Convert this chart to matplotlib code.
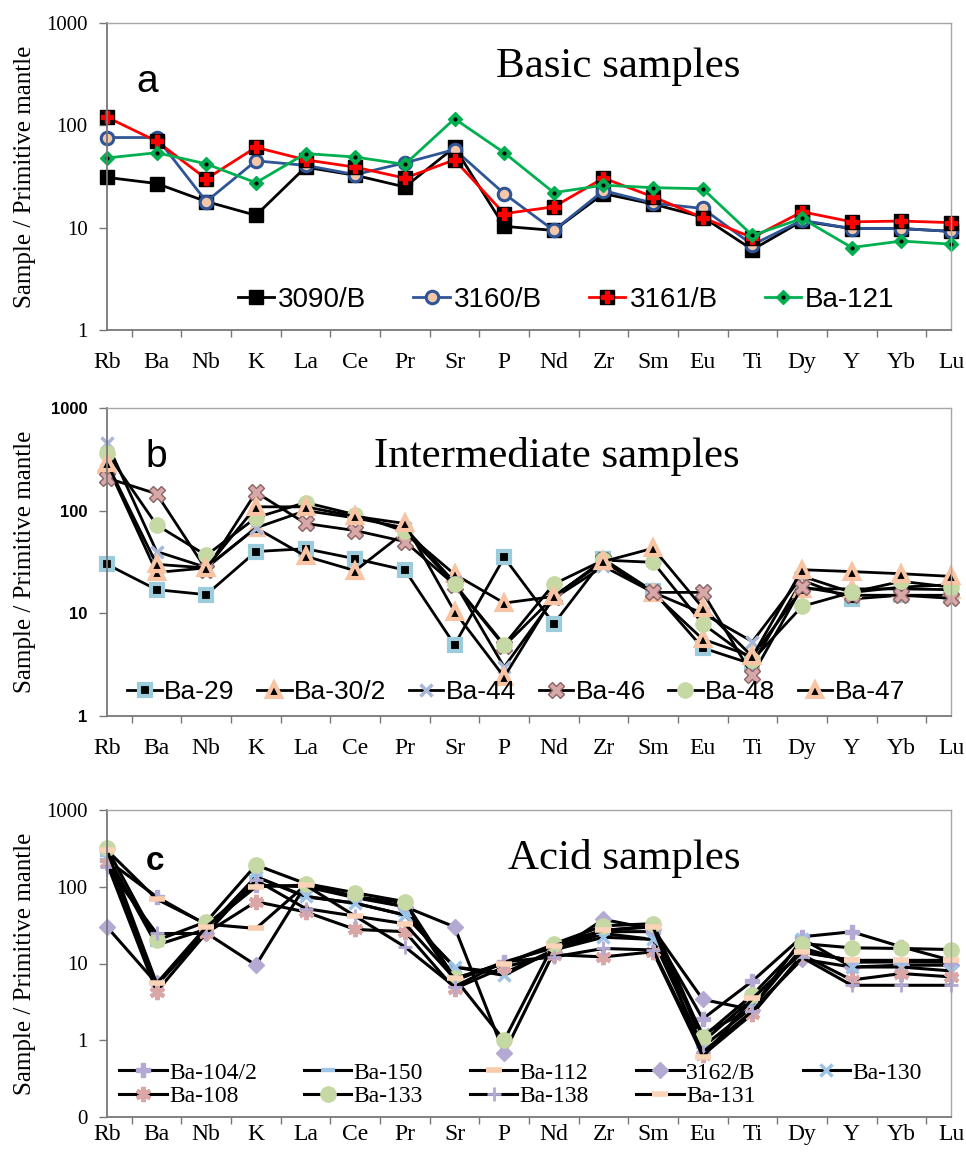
import numpy as np
import matplotlib
matplotlib.use("Agg")
import matplotlib.pyplot as plt
from matplotlib.ticker import FixedLocator, NullFormatter

# Elements (x axis)
elements = ["Rb", "Ba", "Nb", "K", "La", "Ce", "Pr", "Sr", "P", "Nd",
            "Zr", "Sm", "Eu", "Ti", "Dy", "Y", "Yb", "Lu"]

# --- a: basic samples
s3090B = [31, 27, 18, 13.2, 39, 32.5, 25, 61, 10.3, 9.4, 21.5, 17, 12.7, 6.1, 11.6, 9.8, 9.8, 9.2]
s3160B = [76, 76, 18, 45, 40.6, 33, 43, 58, 21.5, 9.4, 23, 17.4, 15.4, 6.8, 11.8, 9.8, 9.8, 9.2]
s3161B = [120, 70, 30, 61, 46, 39, 30.5, 46, 13.7, 16, 30.5, 20, 12.5, 8, 14.3, 11.4, 11.6, 11.2]
ba121 = [48, 54, 42, 27.5, 53, 49, 41.5, 116, 54, 22, 26, 24.6, 24, 8.4, 12.3, 6.4, 7.4, 6.9]

# --- b: intermediate samples
ba29 = [30, 17, 15.2, 40, 42.6, 34, 26.4, 4.95, 35, 7.9, 33.8, 16.4, 4.6, 3.2, 21, 13.8, 15, 15]
ba30_2 = [280, 25, 27.7, 68, 36, 26, 62, 24, 12.6, 14.6, 32, 15.8, 5.6, 3.8, 17.3, 17.3, 17.3, 17]
ba44 = [456, 40, 28, 68, 100, 85, 68, 20, 3.0, 14, 28.7, 16, 10, 5.3, 23, 16, 18, 19]
ba46 = [208, 146, 26.6, 151, 75, 64, 50, 19, 4.8, 14.5, 33, 16, 16, 2.5, 18, 15, 15, 14]
ba48 = [365, 72.5, 36.7, 85.5, 120, 91.5, 63, 19.3, 4.95, 19.3, 33, 31.4, 7.9, 3.5, 11.7, 16, 20.5, 18]
ba47 = [290, 30, 27.7, 109, 109, 88, 75, 10.4, 2.4, 14.6, 32, 43, 11.3, 3.8, 26.6, 25.5, 24.3, 22.9]

# --- c: acid samples
ba104_2 = [223, 74, 32, 105, 100, 72, 55, 6, 10.5, 16, 26, 26, 1.9, 5.9, 22.3, 25.9, 16.5, 11]
ba150 = [259, 17.4, 28, 135, 74, 61, 43, 9, 7.5, 15, 24.6, 20.6, 0.82, 2.7, 16, 10.4, 10.5, 10.4]
ba112 = [300, 69, 32.6, 28.6, 105, 74, 62, 6.4, 10, 17.7, 27, 30.7, 0.95, 3.5, 14.2, 11, 10.5, 11]
s3162B = [30, 5.5, 25, 9.5, 105, 75, 55, 30, 0.68, 14, 37.5, 28, 3.4, 2.5, 11.4, 9, 9.5, 9.5]
ba130 = [250, 5.2, 27, 135, 75, 61, 42.7, 9, 7, 15, 22, 20.6, 1.2, 2.6, 21, 9, 9, 8]
ba108 = [201, 4.3, 25, 64, 47, 27.8, 26, 4.7, 9, 13, 12.2, 14.2, 0.64, 2.2, 13, 6.1, 7.4, 6.7]
ba133 = [316, 20, 35, 192, 110, 83.5, 64, 6.5, 1.0, 18, 31, 33, 1.1, 3.9, 18.2, 16, 15.7, 15.2]
ba138 = [183, 24.6, 24.6, 122, 52, 41.4, 16.5, 5, 10.5, 12.2, 15.7, 15, 0.7, 2.4, 12, 5.2, 5.2, 5.2]
ba131 = [300, 5.5, 30, 100, 105, 41.4, 33, 6.4, 10, 17, 27, 30, 0.6, 3.5, 14, 11, 11, 11]

SERIF = "Liberation Serif"
SANS = "Liberation Sans"

x = np.arange(len(elements))
W, H = 966, 1157
fig = plt.figure(figsize=(W / 100, H / 100), dpi=100)


def make_axes(top, bottom, ymin, ylabels, tickfont, xpad=16):
    left, right = 107, 951
    ax = fig.add_axes([left / W, 1 - bottom / H, (right - left) / W, (bottom - top) / H])
    ax.set_yscale("log")
    ax.set_ylim(ymin, 1000)
    ax.set_xlim(0, len(elements) - 1)
    ticks = [10.0 ** k for k in range(int(np.log10(ymin)), 4)]
    ax.yaxis.set_major_locator(FixedLocator(ticks))
    ax.yaxis.set_minor_locator(FixedLocator([]))
    ax.set_yticklabels(ylabels, **tickfont)
    ax.yaxis.set_minor_formatter(NullFormatter())
    ax.set_xticks(x)
    ax.set_xticklabels(elements, family=SERIF, fontsize=17)
    ax.set_xticks(x[:-1] + 0.5, minor=True)
    ax.tick_params(axis="x", which="major", length=0, pad=xpad)
    ax.tick_params(axis="x", which="minor", length=5, width=1, color="#777777")
    ax.tick_params(axis="y", which="major", length=6, width=1, color="#777777", pad=8)
    for s in ["left", "bottom"]:
        ax.spines[s].set_color("#777777")
        ax.spines[s].set_linewidth(1.3)
    for s in ["top", "right"]:
        ax.spines[s].set_color("#a6a6a6")
        ax.spines[s].set_linewidth(1)
    fig.text(25 / W, 1 - (top + bottom) / 2 / H, "Sample / Primitive mantle",
             rotation=90, ha="center", va="center", family=SERIF, fontsize=18)
    return ax


serif_ticks = dict(family=SERIF, fontsize=15)

# ---------------- a
ax = make_axes(23, 330, 1, ["1", "10", "100", "1000"], serif_ticks)
h1, = ax.plot(x, s3090B, color="black", lw=2, marker="s", ms=10, mfc="black", mec="black", clip_on=False)
h2, = ax.plot(x, s3160B, color="#2f5597", lw=2, marker="o", ms=9, mfc="#f4c7a8", mec="#2f5597", mew=2.2, clip_on=False)
h3, = ax.plot(x, s3161B, color="red", lw=2, marker="s", ms=10, mfc="black", mec="black", clip_on=False)
h3b, = ax.plot(x, s3161B, ls="none", marker="P", ms=8, mfc="red", mec="red", clip_on=False)
h4, = ax.plot(x, ba121, color="#00b050", lw=2, marker="D", ms=7, mfc="#00b050", mec="#00b050", clip_on=False)
h4b, = ax.plot(x, ba121, ls="none", marker="o", ms=2, mfc="black", mec="black", clip_on=False)
ax.legend([h1, h2, (h3, h3b), (h4, h4b)], ["3090/B", "3160/B", "3161/B", "Ba-121"],
          loc="center", bbox_to_anchor=(0.544, 0.098), ncol=4, frameon=False,
          prop=dict(family=SANS, size=20), handlelength=1.3, handletextpad=0.15,
          columnspacing=1.7)
fig.text(740 / W, 1 - 77 / H, "Basic samples", ha="right", va="baseline", family=SERIF, fontsize=31)
fig.text(147 / W, 1 - 92 / H, "a", ha="center", va="baseline", family=SANS, fontsize=28)

# ---------------- b
ax = make_axes(408, 716, 1, ["1", "10", "100", "1000"], dict(family=SANS, fontsize=12, weight="bold"))
peach = "#f8c4a4"
b_styles = [
    (ba29, "Ba-29", dict(marker="s", ms=9, mfc="black", mec="#9ccbdc", mew=3)),
    (ba30_2, "Ba-30/2", dict(marker="^", ms=10, mfc="black", mec=peach, mew=3)),
    (ba44, "Ba-44", dict(marker="x", ms=9, mec="#a8b6d8", mew=2.5)),
    (ba46, "Ba-46", dict(marker="X", ms=12, mfc="#d8a8a8", mec="#8a6464", mew=1)),
    (ba48, "Ba-48", dict(marker="o", ms=11, mfc="#c6d9a4", mec="#c6d9a4")),
    (ba47, "Ba-47", dict(marker="^", ms=10, mfc="black", mec=peach, mew=3)),
]
for vals, lab, st in b_styles:
    ax.plot(x, vals, color="black", lw=2, label=lab, clip_on=False, **st)
ax.legend(loc="center", bbox_to_anchor=(0.485, 0.078), ncol=6, frameon=False,
          prop=dict(family=SANS, size=19), handlelength=1.3, handletextpad=0.1,
          columnspacing=0.85)
fig.text(740 / W, 1 - 467 / H, "Intermediate samples", ha="right", va="baseline", family=SERIF, fontsize=31)
fig.text(156 / W, 1 - 467 / H, "b", ha="center", va="baseline", family=SANS, fontsize=28)

# ---------------- c
ax = make_axes(810, 1117, 0.1, ["0", "1", "10", "100", "1000"], serif_ticks, xpad=5)
lav = "#b4a9d3"
lblue = "#9dc3e6"
c_styles = [
    (ba104_2, "Ba-104/2", dict(marker="P", ms=10, mfc=lav, mec=lav)),
    (ba150, "Ba-150", dict(marker="_", ms=10, mec=lblue, mew=3)),
    (ba112, "Ba-112", dict(marker="_", ms=12, mec="#f8cbad", mew=4)),
    (s3162B, "3162/B", dict(marker="D", ms=8, mfc=lav, mec=lav)),
    (ba130, "Ba-130", dict(marker="x", ms=9, mec=lblue, mew=2.5)),
    (ba108, "Ba-108", dict(marker=(6, 2, 0), ms=11, mec="#dba6a6", mew=3)),
    (ba133, "Ba-133", dict(marker="o", ms=11, mfc="#c6d9a4", mec="#c6d9a4")),
    (ba138, "Ba-138", dict(marker="+", ms=10, mec=lav, mew=2)),
    (ba131, "Ba-131", dict(marker="_", ms=12, mec="#fbd3b8", mew=4)),
]
handles = []
for vals, lab, st in c_styles:
    h, = ax.plot(x, vals, color="black", lw=2.2, label=lab, clip_on=False, **st)
    handles.append(h)
# legend filled column by column -> reorder so rows read left to right
order = [0, 5, 1, 6, 2, 7, 3, 8, 4]
ax.legend([handles[i] for i in order], [c_styles[i][1] for i in order],
          loc="center", bbox_to_anchor=(0.49, 0.105), ncol=5, frameon=False,
          prop=dict(family=SERIF, size=17), handlelength=2.0, handletextpad=0.1,
          columnspacing=2.0, labelspacing=0.1)
fig.text(740 / W, 1 - 869 / H, "Acid samples", ha="right", va="baseline", family=SERIF, fontsize=31)
fig.text(155 / W, 1 - 870 / H, "c", ha="center", va="baseline", family=SANS, fontsize=24, weight="bold")

fig.savefig("out.png", dpi=100)
